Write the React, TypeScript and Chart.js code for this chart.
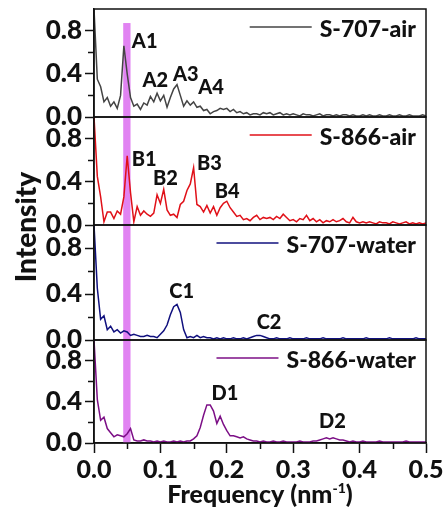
import React, { useEffect, useRef } from 'react';
import { Chart, registerables } from 'chart.js';

Chart.register(...registerables);

// ---------- data ----------
const frequency = [
  0, 0.005, 0.01, 0.015, 0.02, 0.025, 0.03, 0.035, 0.04, 0.045,
  0.05, 0.055, 0.06, 0.065, 0.07, 0.075, 0.08, 0.085, 0.09, 0.095,
  0.1, 0.105, 0.11, 0.115, 0.12, 0.125, 0.13, 0.135, 0.14, 0.145,
  0.15, 0.155, 0.16, 0.165, 0.17, 0.175, 0.18, 0.185, 0.19, 0.195,
  0.2, 0.205, 0.21, 0.215, 0.22, 0.225, 0.23, 0.235, 0.24, 0.245,
  0.25, 0.255, 0.26, 0.265, 0.27, 0.275, 0.28, 0.285, 0.29, 0.295,
  0.3, 0.305, 0.31, 0.315, 0.32, 0.325, 0.33, 0.335, 0.34, 0.345,
  0.35, 0.355, 0.36, 0.365, 0.37, 0.375, 0.38, 0.385, 0.39, 0.395,
  0.4, 0.405, 0.41, 0.415, 0.42, 0.425, 0.43, 0.435, 0.44, 0.445,
  0.45, 0.455, 0.46, 0.465, 0.47, 0.475, 0.48, 0.485, 0.49, 0.495,
  0.5,
];

const s707Air = [
  1.0, 0.35, 0.28, 0.14, 0.18, 0.10, 0.14, 0.08, 0.20, 0.66,
  0.40, 0.18, 0.10, 0.12, 0.07, 0.13, 0.11, 0.19, 0.14, 0.22,
  0.15, 0.20, 0.09, 0.18, 0.26, 0.30, 0.20, 0.10, 0.15, 0.11,
  0.14, 0.09, 0.10, 0.06, 0.07, 0.03, 0.05, 0.06, 0.08, 0.07,
  0.08, 0.05, 0.07, 0.04, 0.05, 0.03, 0.04, 0.02, 0.03, 0.03,
  0.02, 0.04, 0.03, 0.04, 0.02, 0.03, 0.04, 0.02, 0.03, 0.02,
  0.03, 0.02, 0.01, 0.03, 0.02, 0.02, 0.01, 0.02, 0.03, 0.01,
  0.02, 0.02, 0.01, 0.02, 0.01, 0.02, 0.02, 0.01, 0.02, 0.01,
  0.01, 0.02, 0.01, 0.02, 0.01, 0.01, 0.02, 0.01, 0.01, 0.02,
  0.01, 0.01, 0.02, 0.01, 0.01, 0.02, 0.01, 0.01, 0.01, 0.02,
  0.01,
];

const s866Air = [
  1.0, 0.45, 0.26, 0.03, 0.12, 0.12, 0.06, 0.13, 0.10, 0.26,
  0.64, 0.30, 0.03, 0.17, 0.09, 0.13, 0.10, 0.08, 0.11, 0.28,
  0.20, 0.33, 0.14, 0.09, 0.10, 0.07, 0.19, 0.22, 0.32, 0.38,
  0.53, 0.19, 0.17, 0.12, 0.18, 0.11, 0.17, 0.09, 0.16, 0.20,
  0.22, 0.16, 0.12, 0.08, 0.09, 0.05, 0.06, 0.04, 0.07, 0.09,
  0.05, 0.07, 0.06, 0.07, 0.05, 0.08, 0.06, 0.10, 0.07, 0.04,
  0.05, 0.03, 0.06, 0.05, 0.09, 0.04, 0.06, 0.03, 0.05, 0.02,
  0.04, 0.03, 0.05, 0.03, 0.04, 0.06, 0.03, 0.02, 0.07, 0.03,
  0.02, 0.03, 0.02, 0.03, 0.02, 0.01, 0.03, 0.02, 0.02, 0.01,
  0.03, 0.02, 0.01, 0.02, 0.03, 0.01, 0.02, 0.01, 0.02, 0.01,
  0.02,
];

const s707Water = [
  1.0, 0.45, 0.18, 0.21, 0.09, 0.12, 0.07, 0.09, 0.06, 0.08,
  0.07, 0.04, 0.05, 0.04, 0.03, 0.03, 0.04, 0.03, 0.03, 0.02,
  0.05, 0.08, 0.13, 0.22, 0.29, 0.31, 0.24, 0.09, 0.02, 0.03,
  0.02, 0.04, 0.02, 0.03, 0.02, 0.02, 0.01, 0.02, 0.01, 0.02,
  0.01, 0.01, 0.02, 0.01, 0.01, 0.02, 0.01, 0.02, 0.03, 0.04,
  0.04, 0.03, 0.02, 0.01, 0.01, 0.02, 0.01, 0.01, 0.01, 0.02,
  0.01, 0.01, 0.01, 0.01, 0.02, 0.01, 0.01, 0.01, 0.01, 0.02,
  0.01, 0.01, 0.01, 0.01, 0.01, 0.02, 0.01, 0.01, 0.01, 0.01,
  0.01, 0.01, 0.02, 0.01, 0.01, 0.01, 0.01, 0.01, 0.01, 0.02,
  0.01, 0.01, 0.01, 0.01, 0.01, 0.01, 0.01, 0.02, 0.01, 0.01,
  0.01,
];

const s866Water = [
  1.0, 0.42, 0.22, 0.25, 0.14, 0.10, 0.06, 0.08, 0.07, 0.06,
  0.09, 0.14, 0.03, 0.02, 0.02, 0.03, 0.02, 0.02, 0.01, 0.02,
  0.01, 0.02, 0.01, 0.01, 0.02, 0.01, 0.02, 0.01, 0.02, 0.02,
  0.04, 0.07, 0.15, 0.27, 0.37, 0.37, 0.31, 0.19, 0.26, 0.18,
  0.12, 0.07, 0.07, 0.06, 0.05, 0.06, 0.04, 0.03, 0.02, 0.02,
  0.01, 0.02, 0.01, 0.01, 0.02, 0.01, 0.01, 0.02, 0.01, 0.01,
  0.01, 0.01, 0.02, 0.01, 0.01, 0.01, 0.02, 0.02, 0.03, 0.04,
  0.05, 0.04, 0.05, 0.04, 0.03, 0.03, 0.02, 0.01, 0.02, 0.01,
  0.01, 0.02, 0.01, 0.01, 0.01, 0.01, 0.02, 0.01, 0.01, 0.01,
  0.01, 0.01, 0.01, 0.01, 0.02, 0.01, 0.01, 0.01, 0.01, 0.01,
  0.01,
];

const seriesNames = ['S-707-air', 'S-866-air', 'S-707-water', 'S-866-water'];
const seriesValues = [s707Air, s866Air, s707Water, s866Water];
const seriesColors = ['#444444', '#e01018', '#10107e', '#7c0f86'];

const yTickValues = [0, 0.4, 0.8];
const yMinorTickValues = [0.2, 0.6];
const xTickValues = [0, 0.1, 0.2, 0.3, 0.4, 0.5];
const xMinorTickValues = [0.05, 0.15, 0.25, 0.35, 0.45];

const bandRange = [0.044, 0.055];
const bandTopValue = 0.87;

const peakLabelTexts = ['A1', 'A2', 'A3', 'A4', 'B1', 'B2', 'B3', 'B4', 'C1', 'C2', 'D1', 'D2'];
const peakLabelPanels = [0, 0, 0, 0, 1, 1, 1, 1, 2, 2, 3, 3];
const peakLabelX = [0.057, 0.073, 0.119, 0.157, 0.057, 0.089, 0.155, 0.182, 0.1135, 0.245, 0.177, 0.339];
const peakLabelY = [0.70, 0.34, 0.39, 0.27, 0.61, 0.43, 0.57, 0.31, 0.42, 0.15, 0.48, 0.21];

// ---------- layout / style ----------
const axisIds = ['p0', 'p1', 'p2', 'p3'];
const panelWeights = [108, 108, 115, 103];
const FONT = 'Lato, "Open Sans", sans-serif';
const WEIGHT = '900';
const BAND_COLOR = '#e183f2';
const AXIS_COLOR = '#111111';

const panelsPlugin = {
  id: 'panelsPlugin',
  beforeDatasetsDraw(chart: any) {
    const ctx = chart.ctx;
    const x = chart.scales.x;
    const top = chart.scales[axisIds[0]].getPixelForValue(bandTopValue);
    const bottom = chart.scales[axisIds[3]].bottom;
    const l = x.getPixelForValue(bandRange[0]);
    const r = x.getPixelForValue(bandRange[1]);
    ctx.save();
    ctx.fillStyle = BAND_COLOR;
    ctx.fillRect(l, top, r - l, bottom - top);
    ctx.restore();
  },
  afterDatasetsDraw(chart: any) {
    const ctx = chart.ctx;
    const x = chart.scales.x;
    const area = chart.chartArea;
    ctx.save();
    // panel frames
    ctx.strokeStyle = AXIS_COLOR;
    ctx.lineWidth = 1.5;
    axisIds.forEach((id) => {
      const s = chart.scales[id];
      ctx.strokeRect(area.left, s.top, area.right - area.left, s.bottom - s.top);
    });
    // minor y ticks
    axisIds.forEach((id) => {
      const s = chart.scales[id];
      yMinorTickValues.forEach((v) => {
        const py = Math.round(s.getPixelForValue(v)) + 0.5;
        ctx.beginPath();
        ctx.moveTo(area.left - 6, py);
        ctx.lineTo(area.left, py);
        ctx.stroke();
      });
    });
    // minor x ticks
    xMinorTickValues.forEach((v) => {
      const px = Math.round(x.getPixelForValue(v)) + 0.5;
      ctx.beginPath();
      ctx.moveTo(px, area.bottom);
      ctx.lineTo(px, area.bottom + 6);
      ctx.stroke();
    });
    // legends
    ctx.font = `${WEIGHT} 23px ${FONT}`;
    ctx.textAlign = 'right';
    ctx.textBaseline = 'alphabetic';
    axisIds.forEach((id, i) => {
      const s = chart.scales[id];
      const tx = area.right - 10;
      const ty = s.top + 28;
      ctx.fillStyle = '#111';
      ctx.fillText(seriesNames[i], tx, ty);
      const w = ctx.measureText(seriesNames[i]).width;
      const lineRight = tx - w - 8;
      ctx.strokeStyle = seriesColors[i];
      ctx.lineWidth = 1.5;
      ctx.beginPath();
      ctx.moveTo(lineRight - 62, s.top + 18);
      ctx.lineTo(lineRight, s.top + 18);
      ctx.stroke();
    });
    // peak labels
    ctx.font = `${WEIGHT} 20px ${FONT}`;
    ctx.textAlign = 'left';
    ctx.textBaseline = 'middle';
    ctx.fillStyle = '#111';
    peakLabelTexts.forEach((t, i) => {
      const s = chart.scales[axisIds[peakLabelPanels[i]]];
      ctx.fillText(t, x.getPixelForValue(peakLabelX[i]), s.getPixelForValue(peakLabelY[i]));
    });
    // y title
    ctx.save();
    ctx.translate(27, (chart.scales[axisIds[0]].top + area.bottom) / 2 + 1);
    ctx.rotate(-Math.PI / 2);
    ctx.font = `${WEIGHT} 28px ${FONT}`;
    ctx.textAlign = 'center';
    ctx.textBaseline = 'middle';
    ctx.fillText('Intensity', 0, 0);
    ctx.restore();
    // x title
    const main = 'Frequency (nm';
    const sup = '-1';
    const close = ')';
    ctx.font = `${WEIGHT} 25px ${FONT}`;
    const wMain = ctx.measureText(main).width;
    const wClose = ctx.measureText(close).width;
    ctx.font = `${WEIGHT} 14px ${FONT}`;
    const wSup = ctx.measureText(sup).width;
    const total = wMain + wSup + wClose;
    const cx = (area.left + area.right) / 2;
    let sx = cx - total / 2;
    const base = 503;
    ctx.textAlign = 'left';
    ctx.textBaseline = 'alphabetic';
    ctx.font = `${WEIGHT} 25px ${FONT}`;
    ctx.fillText(main, sx, base);
    sx += wMain;
    ctx.font = `${WEIGHT} 14px ${FONT}`;
    ctx.fillText(sup, sx, base - 10);
    sx += wSup;
    ctx.font = `${WEIGHT} 25px ${FONT}`;
    ctx.fillText(close, sx, base);
    ctx.restore();
  },
};

export default function App() {
  const canvasRef = useRef<HTMLCanvasElement | null>(null);

  useEffect(() => {
    if (!canvasRef.current) return;
    const datasets = seriesValues.map((vals, i) => ({
      label: seriesNames[i],
      data: frequency.map((f, k) => ({ x: f, y: vals[k] })),
      borderColor: seriesColors[i],
      backgroundColor: seriesColors[i],
      borderWidth: 1.5,
      pointRadius: 0,
      fill: false,
      tension: 0,
      xAxisID: 'x',
      yAxisID: axisIds[i],
    }));

    const scales: any = {
      x: {
        type: 'linear',
        position: 'bottom',
        min: 0,
        max: 0.5,
        afterBuildTicks: (s: any) => {
          s.ticks = xTickValues.map((v) => ({ value: v }));
        },
        afterFit: (s: any) => {
          s.height = 69;
          s.paddingLeft = 0;
          s.paddingRight = 0;
        },
        ticks: {
          color: '#111',
          font: { family: FONT, size: 25, weight: WEIGHT },
          padding: 2,
          maxRotation: 0,
          autoSkip: false,
          callback: (v: any) => Number(v).toFixed(1),
        },
        grid: {
          display: true,
          drawOnChartArea: false,
          drawTicks: true,
          tickLength: 10,
          tickColor: AXIS_COLOR,
          tickWidth: 1.5,
        },
        border: { display: true, color: AXIS_COLOR, width: 1.5 },
      },
    };

    // stacked axes are laid out bottom-up in definition order, so define the bottom panel first
    [...axisIds].reverse().forEach((id) => {
      const i = axisIds.indexOf(id);
      scales[id] = {
        type: 'linear',
        position: 'left',
        stack: 'panels',
        stackWeight: panelWeights[i],
        offset: false,
        min: 0,
        max: 1.0,
        afterBuildTicks: (s: any) => {
          s.ticks = yTickValues.map((v) => ({ value: v }));
        },
        afterFit: (s: any) => {
          s.width = 94;
          s.paddingTop = 0;
          s.paddingBottom = 0;
        },
        ticks: {
          color: '#111',
          font: { family: FONT, size: 26, weight: WEIGHT },
          padding: 3,
          autoSkip: false,
          callback: (v: any) => Number(v).toFixed(1),
        },
        grid: {
          display: true,
          drawOnChartArea: false,
          drawTicks: true,
          tickLength: 9,
          tickColor: AXIS_COLOR,
          tickWidth: 1.5,
        },
        border: { display: true, color: AXIS_COLOR, width: 1.5 },
      };
    });

    const chart = new Chart(canvasRef.current, {
      type: 'line',
      data: { datasets },
      options: {
        animation: false,
        responsive: true,
        maintainAspectRatio: false,
        layout: { padding: { top: 9, right: 20, left: 0, bottom: 0 } },
        plugins: { legend: { display: false }, tooltip: { enabled: false } },
        scales,
      },
      plugins: [panelsPlugin],
    } as any);

    return () => chart.destroy();
  }, []);

  return (
    <div style={{ position: 'absolute', left: 0, top: 0, width: 446, height: 512, background: '#fff' }}>
      <canvas ref={canvasRef} />
    </div>
  );
}
